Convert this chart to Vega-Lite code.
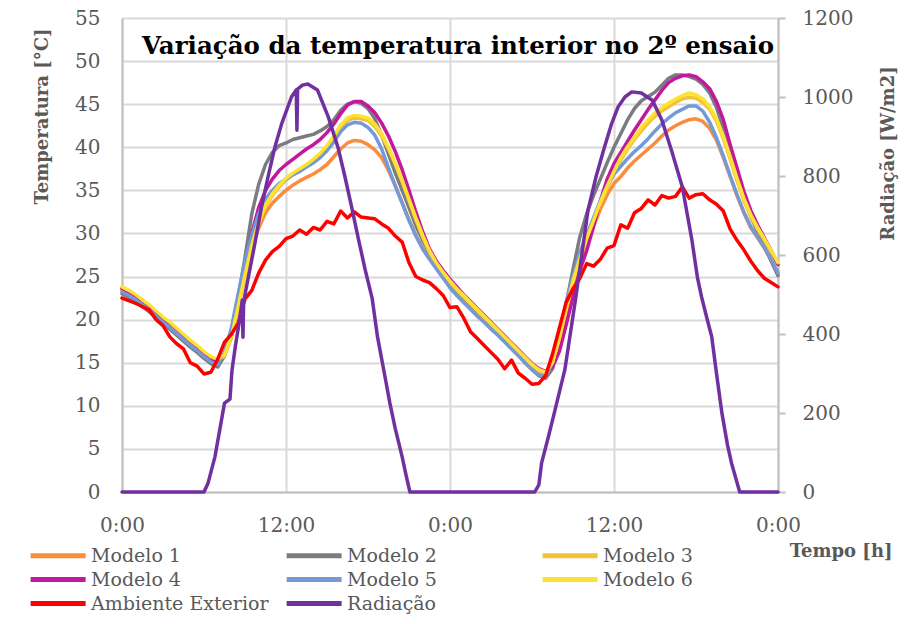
{
  "$schema": "https://vega.github.io/schema/vega-lite/v6.json",
  "width": 656,
  "height": 474,
  "autosize": {"type": "none"},
  "padding": {"left": 122, "top": 18, "right": 128, "bottom": 132},
  "background": "white",
  "config": {
    "view": {"stroke": null},
    "font": "DejaVu Serif"
  },
  "title": {
    "text": "Variação da temperatura interior no 2º ensaio",
    "frame": "group",
    "anchor": "middle",
    "dx": 8,
    "dy": 34,
    "offset": -36,
    "baseline": "alphabetic",
    "font": "DejaVu Serif",
    "fontSize": 24.5,
    "fontWeight": "bold",
    "color": "#000000"
  },
  "datasets": {
    "temp": [
      {"t":0,"Modelo 1":23.4,"Modelo 2":23.0,"Modelo 3":23.7,"Modelo 4":23.6,"Modelo 5":23.2,"Modelo 6":23.8,"Ambiente Exterior":22.5},
      {"t":0.5,"Modelo 1":23.0,"Modelo 2":22.6,"Modelo 3":23.3,"Modelo 4":23.2,"Modelo 5":22.8,"Modelo 6":23.4,"Ambiente Exterior":22.2},
      {"t":1,"Modelo 1":22.5,"Modelo 2":22.1,"Modelo 3":22.8,"Modelo 4":22.7,"Modelo 5":22.3,"Modelo 6":22.9,"Ambiente Exterior":21.9},
      {"t":1.5,"Modelo 1":21.9,"Modelo 2":21.5,"Modelo 3":22.2,"Modelo 4":22.1,"Modelo 5":21.7,"Modelo 6":22.3,"Ambiente Exterior":21.5},
      {"t":2,"Modelo 1":21.3,"Modelo 2":20.9,"Modelo 3":21.6,"Modelo 4":21.5,"Modelo 5":21.1,"Modelo 6":21.7,"Ambiente Exterior":21.1},
      {"t":2.5,"Modelo 1":20.6,"Modelo 2":20.2,"Modelo 3":20.9,"Modelo 4":20.8,"Modelo 5":20.4,"Modelo 6":21.0,"Ambiente Exterior":20.0},
      {"t":3,"Modelo 1":19.9,"Modelo 2":19.5,"Modelo 3":20.2,"Modelo 4":20.1,"Modelo 5":19.7,"Modelo 6":20.3,"Ambiente Exterior":19.3},
      {"t":3.5,"Modelo 1":19.3,"Modelo 2":18.9,"Modelo 3":19.6,"Modelo 4":19.5,"Modelo 5":19.1,"Modelo 6":19.7,"Ambiente Exterior":18.0},
      {"t":4,"Modelo 1":18.6,"Modelo 2":18.2,"Modelo 3":18.9,"Modelo 4":18.8,"Modelo 5":18.4,"Modelo 6":19.0,"Ambiente Exterior":17.2},
      {"t":4.5,"Modelo 1":17.9,"Modelo 2":17.5,"Modelo 3":18.2,"Modelo 4":18.1,"Modelo 5":17.7,"Modelo 6":18.3,"Ambiente Exterior":16.6},
      {"t":5,"Modelo 1":17.2,"Modelo 2":16.8,"Modelo 3":17.5,"Modelo 4":17.4,"Modelo 5":17.0,"Modelo 6":17.6,"Ambiente Exterior":15.0},
      {"t":5.5,"Modelo 1":16.6,"Modelo 2":16.2,"Modelo 3":16.9,"Modelo 4":16.8,"Modelo 5":16.4,"Modelo 6":17.0,"Ambiente Exterior":14.6},
      {"t":6,"Modelo 1":15.9,"Modelo 2":15.5,"Modelo 3":16.2,"Modelo 4":16.1,"Modelo 5":15.7,"Modelo 6":16.3,"Ambiente Exterior":13.7},
      {"t":6.5,"Modelo 1":15.3,"Modelo 2":14.9,"Modelo 3":15.6,"Modelo 4":15.5,"Modelo 5":15.1,"Modelo 6":15.7,"Ambiente Exterior":13.9},
      {"t":7,"Modelo 1":15.1,"Modelo 2":14.5,"Modelo 3":15.2,"Modelo 4":15.2,"Modelo 5":14.8,"Modelo 6":15.4,"Ambiente Exterior":15.4},
      {"t":7.5,"Modelo 1":15.9,"Modelo 2":15.8,"Modelo 3":15.8,"Modelo 4":16.0,"Modelo 5":16.2,"Modelo 6":15.9,"Ambiente Exterior":17.4},
      {"t":8,"Modelo 1":18.2,"Modelo 2":18.2,"Modelo 3":17.9,"Modelo 4":18.0,"Modelo 5":19.0,"Modelo 6":18.0,"Ambiente Exterior":18.3},
      {"t":8.5,"Modelo 1":21.8,"Modelo 2":22.5,"Modelo 3":21.4,"Modelo 4":21.8,"Modelo 5":23.0,"Modelo 6":21.5,"Ambiente Exterior":19.6},
      {"t":9,"Modelo 1":25.3,"Modelo 2":27.2,"Modelo 3":25.0,"Modelo 4":26.0,"Modelo 5":26.8,"Modelo 6":25.2,"Ambiente Exterior":22.4},
      {"t":9.5,"Modelo 1":28.2,"Modelo 2":32.3,"Modelo 3":28.4,"Modelo 4":30.0,"Modelo 5":29.8,"Modelo 6":28.6,"Ambiente Exterior":23.4},
      {"t":10,"Modelo 1":30.6,"Modelo 2":35.7,"Modelo 3":31.1,"Modelo 4":33.0,"Modelo 5":32.3,"Modelo 6":31.3,"Ambiente Exterior":25.4},
      {"t":10.5,"Modelo 1":32.4,"Modelo 2":38.0,"Modelo 3":33.1,"Modelo 4":35.0,"Modelo 5":34.0,"Modelo 6":33.3,"Ambiente Exterior":26.9},
      {"t":11,"Modelo 1":33.5,"Modelo 2":39.4,"Modelo 3":34.4,"Modelo 4":36.3,"Modelo 5":35.0,"Modelo 6":34.6,"Ambiente Exterior":27.9},
      {"t":11.5,"Modelo 1":34.3,"Modelo 2":40.2,"Modelo 3":35.4,"Modelo 4":37.3,"Modelo 5":35.8,"Modelo 6":35.6,"Ambiente Exterior":28.5},
      {"t":12,"Modelo 1":35.0,"Modelo 2":40.5,"Modelo 3":36.2,"Modelo 4":38.0,"Modelo 5":36.3,"Modelo 6":36.4,"Ambiente Exterior":29.4},
      {"t":12.5,"Modelo 1":35.6,"Modelo 2":40.9,"Modelo 3":36.8,"Modelo 4":38.6,"Modelo 5":36.8,"Modelo 6":37.0,"Ambiente Exterior":29.7},
      {"t":13,"Modelo 1":36.1,"Modelo 2":41.1,"Modelo 3":37.3,"Modelo 4":39.2,"Modelo 5":37.2,"Modelo 6":37.5,"Ambiente Exterior":30.4},
      {"t":13.5,"Modelo 1":36.5,"Modelo 2":41.3,"Modelo 3":37.8,"Modelo 4":39.8,"Modelo 5":37.7,"Modelo 6":38.0,"Ambiente Exterior":29.9},
      {"t":14,"Modelo 1":36.9,"Modelo 2":41.5,"Modelo 3":38.4,"Modelo 4":40.3,"Modelo 5":38.2,"Modelo 6":38.6,"Ambiente Exterior":30.7},
      {"t":14.5,"Modelo 1":37.4,"Modelo 2":41.9,"Modelo 3":39.0,"Modelo 4":40.9,"Modelo 5":38.8,"Modelo 6":39.3,"Ambiente Exterior":30.4},
      {"t":15,"Modelo 1":38.0,"Modelo 2":42.4,"Modelo 3":39.9,"Modelo 4":41.7,"Modelo 5":39.6,"Modelo 6":40.2,"Ambiente Exterior":31.4},
      {"t":15.5,"Modelo 1":38.9,"Modelo 2":43.2,"Modelo 3":41.0,"Modelo 4":42.7,"Modelo 5":40.6,"Modelo 6":41.3,"Ambiente Exterior":31.1},
      {"t":16,"Modelo 1":39.8,"Modelo 2":44.3,"Modelo 3":42.3,"Modelo 4":43.9,"Modelo 5":41.8,"Modelo 6":42.6,"Ambiente Exterior":32.6},
      {"t":16.5,"Modelo 1":40.5,"Modelo 2":45.0,"Modelo 3":43.1,"Modelo 4":44.9,"Modelo 5":42.6,"Modelo 6":43.4,"Ambiente Exterior":31.8},
      {"t":17,"Modelo 1":40.8,"Modelo 2":45.3,"Modelo 3":43.4,"Modelo 4":45.3,"Modelo 5":42.9,"Modelo 6":43.7,"Ambiente Exterior":32.5},
      {"t":17.5,"Modelo 1":40.7,"Modelo 2":45.1,"Modelo 3":43.3,"Modelo 4":45.3,"Modelo 5":42.8,"Modelo 6":43.6,"Ambiente Exterior":31.9},
      {"t":18,"Modelo 1":40.3,"Modelo 2":44.5,"Modelo 3":43.1,"Modelo 4":44.8,"Modelo 5":42.3,"Modelo 6":43.4,"Ambiente Exterior":31.8},
      {"t":18.5,"Modelo 1":39.7,"Modelo 2":43.3,"Modelo 3":42.4,"Modelo 4":44.0,"Modelo 5":41.4,"Modelo 6":42.7,"Ambiente Exterior":31.7},
      {"t":19,"Modelo 1":38.8,"Modelo 2":41.4,"Modelo 3":41.3,"Modelo 4":42.8,"Modelo 5":39.8,"Modelo 6":41.6,"Ambiente Exterior":31.1},
      {"t":19.5,"Modelo 1":37.3,"Modelo 2":39.2,"Modelo 3":39.8,"Modelo 4":41.3,"Modelo 5":37.6,"Modelo 6":40.0,"Ambiente Exterior":30.6},
      {"t":20,"Modelo 1":35.5,"Modelo 2":37.0,"Modelo 3":38.0,"Modelo 4":39.5,"Modelo 5":35.5,"Modelo 6":38.2,"Ambiente Exterior":29.7},
      {"t":20.5,"Modelo 1":33.6,"Modelo 2":35.0,"Modelo 3":36.0,"Modelo 4":37.4,"Modelo 5":33.5,"Modelo 6":36.2,"Ambiente Exterior":29.0},
      {"t":21,"Modelo 1":31.6,"Modelo 2":33.0,"Modelo 3":33.8,"Modelo 4":35.0,"Modelo 5":31.5,"Modelo 6":34.0,"Ambiente Exterior":26.6},
      {"t":21.5,"Modelo 1":29.8,"Modelo 2":30.9,"Modelo 3":31.6,"Modelo 4":32.5,"Modelo 5":29.7,"Modelo 6":31.8,"Ambiente Exterior":25.0},
      {"t":22,"Modelo 1":28.3,"Modelo 2":29.2,"Modelo 3":29.6,"Modelo 4":30.2,"Modelo 5":28.2,"Modelo 6":29.8,"Ambiente Exterior":24.6},
      {"t":22.5,"Modelo 1":27.1,"Modelo 2":27.7,"Modelo 3":27.8,"Modelo 4":28.2,"Modelo 5":27.0,"Modelo 6":28.0,"Ambiente Exterior":24.3},
      {"t":23,"Modelo 1":26.0,"Modelo 2":26.4,"Modelo 3":26.4,"Modelo 4":26.8,"Modelo 5":25.9,"Modelo 6":26.6,"Ambiente Exterior":23.6},
      {"t":23.5,"Modelo 1":24.9,"Modelo 2":25.2,"Modelo 3":25.3,"Modelo 4":25.7,"Modelo 5":24.8,"Modelo 6":25.5,"Ambiente Exterior":22.8},
      {"t":24,"Modelo 1":23.8,"Modelo 2":24.1,"Modelo 3":24.3,"Modelo 4":24.7,"Modelo 5":23.7,"Modelo 6":24.5,"Ambiente Exterior":21.4},
      {"t":24.5,"Modelo 1":22.9,"Modelo 2":23.2,"Modelo 3":23.4,"Modelo 4":23.8,"Modelo 5":22.8,"Modelo 6":23.6,"Ambiente Exterior":21.5},
      {"t":25,"Modelo 1":22.1,"Modelo 2":22.3,"Modelo 3":22.6,"Modelo 4":22.9,"Modelo 5":22.0,"Modelo 6":22.8,"Ambiente Exterior":20.2},
      {"t":25.5,"Modelo 1":21.3,"Modelo 2":21.5,"Modelo 3":21.8,"Modelo 4":22.1,"Modelo 5":21.2,"Modelo 6":22.0,"Ambiente Exterior":18.6},
      {"t":26,"Modelo 1":20.5,"Modelo 2":20.7,"Modelo 3":21.0,"Modelo 4":21.3,"Modelo 5":20.4,"Modelo 6":21.2,"Ambiente Exterior":17.8},
      {"t":26.5,"Modelo 1":19.8,"Modelo 2":19.9,"Modelo 3":20.2,"Modelo 4":20.5,"Modelo 5":19.7,"Modelo 6":20.4,"Ambiente Exterior":17.0},
      {"t":27,"Modelo 1":19.0,"Modelo 2":19.1,"Modelo 3":19.4,"Modelo 4":19.7,"Modelo 5":18.9,"Modelo 6":19.6,"Ambiente Exterior":16.2},
      {"t":27.5,"Modelo 1":18.3,"Modelo 2":18.3,"Modelo 3":18.6,"Modelo 4":18.9,"Modelo 5":18.2,"Modelo 6":18.8,"Ambiente Exterior":15.4},
      {"t":28,"Modelo 1":17.5,"Modelo 2":17.5,"Modelo 3":17.8,"Modelo 4":18.1,"Modelo 5":17.4,"Modelo 6":18.0,"Ambiente Exterior":14.3},
      {"t":28.5,"Modelo 1":16.7,"Modelo 2":16.7,"Modelo 3":17.0,"Modelo 4":17.3,"Modelo 5":16.6,"Modelo 6":17.2,"Ambiente Exterior":15.3},
      {"t":29,"Modelo 1":15.9,"Modelo 2":15.9,"Modelo 3":16.2,"Modelo 4":16.5,"Modelo 5":15.8,"Modelo 6":16.4,"Ambiente Exterior":13.8},
      {"t":29.5,"Modelo 1":15.1,"Modelo 2":15.0,"Modelo 3":15.4,"Modelo 4":15.7,"Modelo 5":15.0,"Modelo 6":15.6,"Ambiente Exterior":13.2},
      {"t":30,"Modelo 1":14.3,"Modelo 2":14.2,"Modelo 3":14.6,"Modelo 4":14.9,"Modelo 5":14.2,"Modelo 6":14.8,"Ambiente Exterior":12.5},
      {"t":30.5,"Modelo 1":13.7,"Modelo 2":13.5,"Modelo 3":14.0,"Modelo 4":14.3,"Modelo 5":13.6,"Modelo 6":14.2,"Ambiente Exterior":12.6},
      {"t":31,"Modelo 1":13.5,"Modelo 2":13.2,"Modelo 3":13.7,"Modelo 4":14.0,"Modelo 5":13.4,"Modelo 6":13.9,"Ambiente Exterior":13.5},
      {"t":31.5,"Modelo 1":14.8,"Modelo 2":14.3,"Modelo 3":14.8,"Modelo 4":14.5,"Modelo 5":15.0,"Modelo 6":15.0,"Ambiente Exterior":16.0},
      {"t":32,"Modelo 1":17.8,"Modelo 2":17.5,"Modelo 3":17.6,"Modelo 4":16.3,"Modelo 5":18.5,"Modelo 6":17.8,"Ambiente Exterior":19.0},
      {"t":32.5,"Modelo 1":21.0,"Modelo 2":21.8,"Modelo 3":21.1,"Modelo 4":19.4,"Modelo 5":22.0,"Modelo 6":21.3,"Ambiente Exterior":22.0},
      {"t":33,"Modelo 1":24.0,"Modelo 2":25.8,"Modelo 3":24.3,"Modelo 4":22.6,"Modelo 5":25.0,"Modelo 6":24.5,"Ambiente Exterior":23.6},
      {"t":33.5,"Modelo 1":26.6,"Modelo 2":29.6,"Modelo 3":26.9,"Modelo 4":25.7,"Modelo 5":27.8,"Modelo 6":27.1,"Ambiente Exterior":24.8},
      {"t":34,"Modelo 1":28.8,"Modelo 2":32.3,"Modelo 3":29.2,"Modelo 4":28.0,"Modelo 5":29.8,"Modelo 6":29.4,"Ambiente Exterior":26.5},
      {"t":34.5,"Modelo 1":30.8,"Modelo 2":34.4,"Modelo 3":31.3,"Modelo 4":30.8,"Modelo 5":31.8,"Modelo 6":31.5,"Ambiente Exterior":26.2},
      {"t":35,"Modelo 1":32.8,"Modelo 2":36.3,"Modelo 3":33.4,"Modelo 4":33.8,"Modelo 5":33.8,"Modelo 6":33.6,"Ambiente Exterior":27.0},
      {"t":35.5,"Modelo 1":34.5,"Modelo 2":38.2,"Modelo 3":35.3,"Modelo 4":36.3,"Modelo 5":35.5,"Modelo 6":35.5,"Ambiente Exterior":28.3},
      {"t":36,"Modelo 1":35.8,"Modelo 2":40.0,"Modelo 3":37.0,"Modelo 4":38.1,"Modelo 5":36.9,"Modelo 6":37.2,"Ambiente Exterior":28.6},
      {"t":36.5,"Modelo 1":36.6,"Modelo 2":41.6,"Modelo 3":38.5,"Modelo 4":39.4,"Modelo 5":37.8,"Modelo 6":38.8,"Ambiente Exterior":31.0},
      {"t":37,"Modelo 1":37.6,"Modelo 2":43.2,"Modelo 3":39.8,"Modelo 4":40.7,"Modelo 5":38.7,"Modelo 6":40.1,"Ambiente Exterior":30.6},
      {"t":37.5,"Modelo 1":38.4,"Modelo 2":44.5,"Modelo 3":40.9,"Modelo 4":42.0,"Modelo 5":39.5,"Modelo 6":41.2,"Ambiente Exterior":32.4},
      {"t":38,"Modelo 1":39.1,"Modelo 2":45.4,"Modelo 3":41.9,"Modelo 4":43.2,"Modelo 5":40.2,"Modelo 6":42.3,"Ambiente Exterior":32.9},
      {"t":38.5,"Modelo 1":39.8,"Modelo 2":45.9,"Modelo 3":42.8,"Modelo 4":44.4,"Modelo 5":41.0,"Modelo 6":43.2,"Ambiente Exterior":33.9},
      {"t":39,"Modelo 1":40.5,"Modelo 2":46.4,"Modelo 3":43.6,"Modelo 4":45.5,"Modelo 5":41.9,"Modelo 6":44.0,"Ambiente Exterior":33.3},
      {"t":39.5,"Modelo 1":41.3,"Modelo 2":47.2,"Modelo 3":44.2,"Modelo 4":46.6,"Modelo 5":42.7,"Modelo 6":44.6,"Ambiente Exterior":34.4},
      {"t":40,"Modelo 1":42.0,"Modelo 2":48.0,"Modelo 3":44.7,"Modelo 4":47.5,"Modelo 5":43.4,"Modelo 6":45.1,"Ambiente Exterior":34.1},
      {"t":40.5,"Modelo 1":42.5,"Modelo 2":48.4,"Modelo 3":45.2,"Modelo 4":48.0,"Modelo 5":44.0,"Modelo 6":45.6,"Ambiente Exterior":34.3},
      {"t":41,"Modelo 1":42.9,"Modelo 2":48.4,"Modelo 3":45.6,"Modelo 4":48.3,"Modelo 5":44.4,"Modelo 6":46.0,"Ambiente Exterior":35.4},
      {"t":41.5,"Modelo 1":43.2,"Modelo 2":48.2,"Modelo 3":45.8,"Modelo 4":48.4,"Modelo 5":44.8,"Modelo 6":46.3,"Ambiente Exterior":34.1},
      {"t":42,"Modelo 1":43.3,"Modelo 2":47.9,"Modelo 3":45.7,"Modelo 4":48.2,"Modelo 5":44.8,"Modelo 6":46.1,"Ambiente Exterior":34.5},
      {"t":42.5,"Modelo 1":43.0,"Modelo 2":47.3,"Modelo 3":45.2,"Modelo 4":47.6,"Modelo 5":44.2,"Modelo 6":45.6,"Ambiente Exterior":34.6},
      {"t":43,"Modelo 1":42.2,"Modelo 2":46.3,"Modelo 3":44.4,"Modelo 4":46.8,"Modelo 5":42.9,"Modelo 6":44.7,"Ambiente Exterior":33.9},
      {"t":43.5,"Modelo 1":40.8,"Modelo 2":44.6,"Modelo 3":43.0,"Modelo 4":45.3,"Modelo 5":41.1,"Modelo 6":43.3,"Ambiente Exterior":33.4},
      {"t":44,"Modelo 1":38.8,"Modelo 2":42.2,"Modelo 3":41.0,"Modelo 4":43.2,"Modelo 5":39.0,"Modelo 6":41.3,"Ambiente Exterior":32.6},
      {"t":44.5,"Modelo 1":36.6,"Modelo 2":39.6,"Modelo 3":38.6,"Modelo 4":40.3,"Modelo 5":36.7,"Modelo 6":38.9,"Ambiente Exterior":30.5},
      {"t":45,"Modelo 1":34.4,"Modelo 2":36.8,"Modelo 3":36.1,"Modelo 4":37.6,"Modelo 5":34.5,"Modelo 6":36.4,"Ambiente Exterior":29.2},
      {"t":45.5,"Modelo 1":32.4,"Modelo 2":34.2,"Modelo 3":33.8,"Modelo 4":34.9,"Modelo 5":32.5,"Modelo 6":34.1,"Ambiente Exterior":28.1},
      {"t":46,"Modelo 1":30.7,"Modelo 2":32.0,"Modelo 3":32.0,"Modelo 4":32.7,"Modelo 5":30.8,"Modelo 6":32.2,"Ambiente Exterior":26.8},
      {"t":46.5,"Modelo 1":29.5,"Modelo 2":30.2,"Modelo 3":30.5,"Modelo 4":31.0,"Modelo 5":29.6,"Modelo 6":30.7,"Ambiente Exterior":25.7},
      {"t":47,"Modelo 1":28.3,"Modelo 2":28.5,"Modelo 3":29.2,"Modelo 4":29.5,"Modelo 5":28.4,"Modelo 6":29.4,"Ambiente Exterior":24.8},
      {"t":47.5,"Modelo 1":26.9,"Modelo 2":26.8,"Modelo 3":27.8,"Modelo 4":28.0,"Modelo 5":27.0,"Modelo 6":28.0,"Ambiente Exterior":24.3},
      {"t":48,"Modelo 1":25.3,"Modelo 2":25.1,"Modelo 3":26.4,"Modelo 4":26.4,"Modelo 5":25.4,"Modelo 6":26.6,"Ambiente Exterior":23.8}
    ],
    "rad": [
      {"t":0,"r":0},{"t":6.0,"r":0},{"t":6.3,"r":23},{"t":6.8,"r":89},{"t":7.5,"r":225},{"t":7.9,"r":235},
      {"t":8.05,"r":309},{"t":8.3,"r":370},{"t":8.6,"r":435},{"t":8.8,"r":486},{"t":8.85,"r":392},{"t":8.9,"r":480},
      {"t":9.0,"r":500},{"t":9.7,"r":625},{"t":10.2,"r":720},{"t":10.7,"r":800},{"t":11.2,"r":875},{"t":11.7,"r":934},
      {"t":12.4,"r":1000},{"t":12.75,"r":1018},{"t":12.8,"r":916},{"t":12.85,"r":1020},{"t":13.2,"r":1030},{"t":13.6,"r":1033},
      {"t":14.3,"r":1018},{"t":15.1,"r":949},{"t":15.8,"r":873},{"t":16.3,"r":800},{"t":16.8,"r":722},{"t":17.3,"r":640},
      {"t":17.8,"r":562},{"t":18.3,"r":491},{"t":18.7,"r":392},{"t":19.2,"r":300},{"t":19.6,"r":225},{"t":20.0,"r":160},
      {"t":20.5,"r":89},{"t":20.8,"r":40},{"t":21.07,"r":0},{"t":30.2,"r":0},{"t":30.5,"r":18},{"t":30.7,"r":73},
      {"t":31.2,"r":140},{"t":31.7,"r":210},{"t":32.4,"r":309},{"t":33.2,"r":491},{"t":34.1,"r":714},{"t":34.7,"r":800},
      {"t":35.3,"r":873},{"t":35.8,"r":930},{"t":36.3,"r":975},{"t":36.8,"r":1000},{"t":37.3,"r":1013},{"t":38.0,"r":1010},
      {"t":38.8,"r":992},{"t":39.5,"r":942},{"t":40.2,"r":866},{"t":41.0,"r":772},{"t":41.7,"r":638},{"t":42.1,"r":544},
      {"t":42.4,"r":495},{"t":42.8,"r":440},{"t":43.15,"r":393},{"t":43.5,"r":300},{"t":43.9,"r":199},{"t":44.3,"r":120},
      {"t":44.6,"r":73},{"t":45.2,"r":0},{"t":48,"r":0}
    ]
  },
  "layer": [
    {
      "data": {"name": "temp"},
      "transform": [
        {"fold": ["Modelo 1","Modelo 2","Modelo 3","Modelo 4","Modelo 5","Modelo 6","Ambiente Exterior"], "as": ["serie","valor"]}
      ],
      "mark": {"type": "line", "strokeWidth": 3.5, "strokeJoin": "round", "strokeCap": "round"},
      "encoding": {
        "x": {
          "field": "t", "type": "quantitative",
          "scale": {"domain": [0, 48], "nice": false, "zero": false},
          "axis": {
            "values": [0, 12, 24, 36, 48],
            "labelExpr": "(datum.value % 24) + ':00'",
            "title": "Tempo [h]",
            "titleFont": "DejaVu Serif", "titleFontSize": 18, "titleFontWeight": "bold", "titleColor": "#595959",
            "titleAnchor": null, "titleAlign": "right", "titleBaseline": "middle", "titleX": 770, "titleY": 59,
            "labelFont": "DejaVu Serif", "labelFontSize": 20, "labelColor": "#595959", "labelPadding": 23,
            "labelFlush": false, "labelOverlap": false,
            "grid": true, "gridColor": "#D9D9D9", "gridWidth": 2,
            "domain": true, "domainColor": "#BFBFBF", "domainWidth": 2,
            "ticks": false, "tickSize": 0
          }
        },
        "y": {
          "field": "valor", "type": "quantitative",
          "scale": {"domain": [0, 55], "nice": false, "zero": true},
          "axis": {
            "values": [0,5,10,15,20,25,30,35,40,45,50,55],
            "title": "Temperatura [°C]",
            "titleFont": "DejaVu Serif", "titleFontSize": 18, "titleFontWeight": "bold", "titleColor": "#595959",
            "titleAnchor": null, "titleAlign": "center", "titleBaseline": "middle", "titleAngle": 270, "titleX": -80, "titleY": 98,
            "labelFont": "DejaVu Serif", "labelFontSize": 20, "labelColor": "#595959", "labelPadding": 22,
            "labelFlush": false, "labelOverlap": false,
            "grid": true, "gridColor": "#D9D9D9", "gridWidth": 2,
            "domain": true, "domainColor": "#BFBFBF", "domainWidth": 2,
            "ticks": false, "tickSize": 0
          }
        },
        "color": {
          "field": "serie", "type": "nominal",
          "scale": {
            "domain": ["Modelo 1","Modelo 4","Ambiente Exterior","Modelo 2","Modelo 5","Radiação","Modelo 3","Modelo 6"],
            "range": ["#FA8C3C","#C2179F","#FF0000","#7A7C80","#7399D8","#7030A0","#F2C23A","#FFE231"]
          },
          "legend": {
            "orient": "none",
            "legendX": -94,
            "legendY": 528,
            "title": null,
            "columns": 3,
            "gridAlign": "all",
            "columnPadding": 7,
            "rowPadding": 3,
            "padding": 0,
            "symbolType": "M-1,0H7",
            "symbolSize": 189,
            "symbolStrokeWidth": 5,
            "labelOffset": 44,
            "labelFont": "DejaVu Serif",
            "labelFontSize": 19,
            "labelColor": "#595959",
            "labelLimit": 300
          }
        }
      }
    },
    {
      "data": {"name": "rad"},
      "mark": {"type": "line", "strokeWidth": 3.5, "strokeJoin": "round", "strokeCap": "round"},
      "encoding": {
        "x": {"field": "t", "type": "quantitative"},
        "y": {
          "field": "r", "type": "quantitative",
          "scale": {"domain": [0, 1200], "nice": false},
          "axis": {
            "orient": "right",
            "values": [0,200,400,600,800,1000,1200],
            "format": "d",
            "title": "Radiação [W/m2]",
            "titleFont": "DejaVu Serif", "titleFontSize": 18, "titleFontWeight": "bold", "titleColor": "#595959",
            "titleAnchor": null, "titleAlign": "center", "titleBaseline": "middle", "titleAngle": 270, "titleX": 110, "titleY": 135,
            "labelFont": "DejaVu Serif", "labelFontSize": 20, "labelColor": "#595959", "labelPadding": 17,
            "labelFlush": false, "labelOverlap": false,
            "grid": false,
            "domain": true, "domainColor": "#BFBFBF", "domainWidth": 2,
            "ticks": true, "tickSize": 7, "tickColor": "#BFBFBF", "tickWidth": 2
          }
        },
        "color": {"datum": "Radiação"}
      }
    }
  ],
  "resolve": {"scale": {"y": "independent"}}
}
